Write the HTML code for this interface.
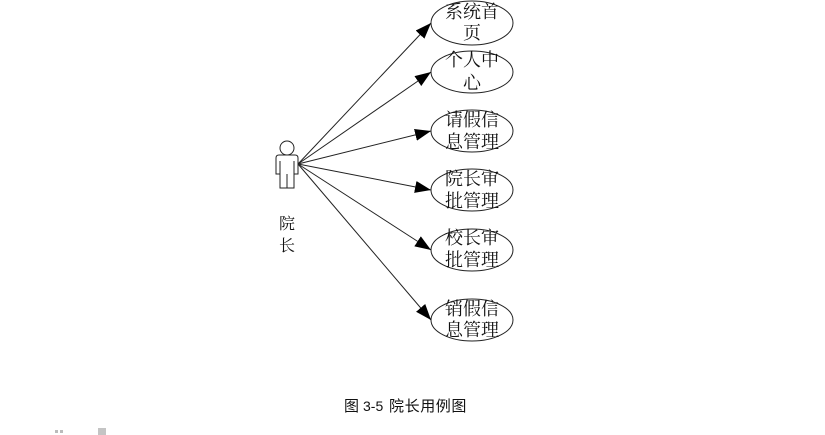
<!DOCTYPE html>
<html lang="zh">
<head>
<meta charset="utf-8">
<style>
html,body{margin:0;padding:0;background:#fff}
body{width:825px;height:435px;overflow:hidden;position:relative}
svg{position:absolute;left:0;top:0}
text{font-family:"Liberation Serif","Noto Serif CJK SC",serif;fill:#111}
.l{font-size:18px;text-anchor:middle}
.c{font-family:"Liberation Sans","WenQuanYi Zen Hei","Noto Sans CJK SC",sans-serif;font-size:15px;fill:#111}
</style>
</head>
<body>
<svg width="825" height="435" viewBox="0 0 825 435">
<defs>
<marker id="a" markerUnits="userSpaceOnUse" markerWidth="16" markerHeight="12" refX="16" refY="6" orient="auto">
<path d="M0 0L16 6L0 12z" fill="#000"/>
</marker>
</defs>
<g fill="none" stroke="#222" stroke-width="1">
<ellipse cx="472" cy="23" rx="41" ry="22"/>
<ellipse cx="472" cy="72" rx="41" ry="21"/>
<ellipse cx="472" cy="131" rx="41" ry="21"/>
<ellipse cx="472" cy="190" rx="41" ry="21"/>
<ellipse cx="472" cy="250" rx="41" ry="21"/>
<ellipse cx="472" cy="320" rx="41" ry="21"/>
<g marker-end="url(#a)">
<line x1="298" y1="164" x2="431" y2="23"/>
<line x1="298" y1="164" x2="431" y2="72"/>
<line x1="298" y1="164" x2="431" y2="131"/>
<line x1="298" y1="164" x2="431" y2="190"/>
<line x1="298" y1="164" x2="431" y2="250"/>
<line x1="298" y1="164" x2="431" y2="320"/>
</g>
<circle cx="287" cy="148" r="7" fill="#fff"/>
<path d="M279 155H295Q298 155 298 158V174H294V188H280V174H276V158Q276 155 279 155Z" fill="#fff"/>
<path d="M280 161V174M294 161V174M287 174V188"/>
</g>
<text class="l" x="472" y="18">系统首</text>
<text class="l" x="472" y="39">页</text>
<text class="l" x="472" y="66">个人中</text>
<text class="l" x="472" y="89">心</text>
<text class="l" x="472" y="126">请假信</text>
<text class="l" x="472" y="148">息管理</text>
<text class="l" x="472" y="185">院长审</text>
<text class="l" x="472" y="207">批管理</text>
<text class="l" x="472" y="244">校长审</text>
<text class="l" x="472" y="266">批管理</text>
<text class="l" x="472" y="315">销假信</text>
<text class="l" x="472" y="336">息管理</text>
<text class="l" x="287" y="229" style="font-size:16px">院</text>
<text class="l" x="287" y="251" style="font-size:16px">长</text>
<text class="c" x="344" y="411">图</text>
<text class="c" x="363" y="411" style="font-size:14px">3-5</text>
<text class="c" x="389" y="411" letter-spacing="0.6">院长用例图</text>
<rect x="55" y="430" width="3" height="3" fill="#bbb"/>
<rect x="60" y="430" width="3" height="3" fill="#bbb"/>
<rect x="98" y="428" width="8" height="7" fill="#c4c4c4"/>
</svg>
</body>
</html>
